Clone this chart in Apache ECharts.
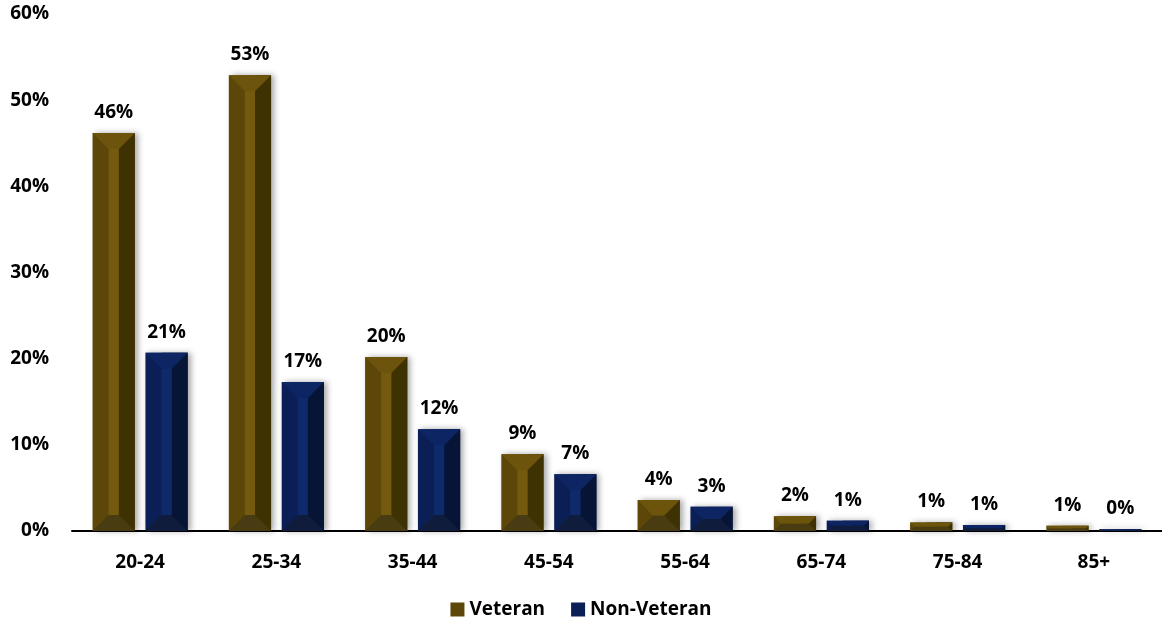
<!DOCTYPE html>
<html>
<head>
<meta charset="utf-8">
<script src="https://cdn.jsdelivr.net/npm/echarts@6/dist/echarts.min.js"></script>
<style>
html,body{margin:0;padding:0;background:#fff;}
#chart{width:1162px;height:624px;}
</style>
</head>
<body>
<div id="chart"></div>
<script>
var categories = ['20-24','25-34','35-44','45-54','55-64','65-74','75-84','85+'];
var veteran = [46.2, 52.9, 20.2, 8.9, 3.6, 1.7, 1.0, 0.6];
var nonVeteran = [20.7, 17.3, 11.8, 6.6, 2.8, 1.2, 0.7, 0.2];
var yTicks = [0, 10, 20, 30, 40, 50, 60];

var FONT = '"Open Sans", "Liberation Sans", sans-serif';

var palettes = [
  {left:'#5c4709', center:'#735a0e', right:'#3e3102', top:'#6c540c', bottom:'#4a3c12', legend:'#5c4709'},
  {left:'#0b1f56', center:'#0f2a6b', right:'#061436', top:'#0d2563', bottom:'#101c3c', legend:'#0b1f56'}
];

function makeRender(si) {
  var pal = palettes[si];
  return function (params, api) {
    var ci = api.value(0), v = api.value(1);
    var base = api.coord([ci, 0]);
    var top = api.coord([ci, v]);
    var catW = api.size([1, 0])[0];
    var bw = catW * 0.31;
    var off = catW * 0.194;
    var cx = base[0] + (si === 0 ? -off : off);
    var x0 = cx - bw / 2, x1 = cx + bw / 2;
    var y0 = top[1], y1 = base[1];
    var h = y1 - y0;
    var b = Math.min(16, h / 2);
    var inset = 16;
    var children = [];
    children.push({type:'rect', shape:{x:x0, y:y0, width:bw, height:h},
      style:{fill:pal.left, shadowBlur:6, shadowColor:'rgba(0,0,0,0.35)', shadowOffsetX:3, shadowOffsetY:0}});
    children.push({type:'rect', shape:{x:x1 - inset, y:y0, width:inset, height:h}, style:{fill:pal.right}});
    children.push({type:'rect', shape:{x:x0 + inset, y:y0, width:bw - 2 * inset, height:h}, style:{fill:pal.center}});
    children.push({type:'polygon', shape:{points:[[x0,y0],[x1,y0],[x1 - b, y0 + b],[x0 + b, y0 + b]]}, style:{fill:pal.top}});
    children.push({type:'polygon', shape:{points:[[x0,y1],[x1,y1],[x1 - b, y1 - b],[x0 + b, y1 - b]]}, style:{fill:pal.bottom}});
    children.push({type:'text', x:cx, y:y0 - 11,
      style:{text: Math.round(v) + '%', align:'center', verticalAlign:'bottom',
        font:'bold 19px ' + FONT, fill:'#000'}});
    return {type:'group', children:children};
  };
}

function seriesData(arr) {
  return arr.map(function (v, i) { return [i, v]; });
}

var chart = echarts.init(document.getElementById('chart'));
chart.setOption({
  animation:false,
  backgroundColor:'#fff',
  grid:{left:72, right:-6, top:14, bottom:93, containLabel:false},
  legend:{
    bottom:0, left:'center', itemWidth:14, itemHeight:14, itemGap:26,
    icon:'rect',
    textStyle:{fontFamily:FONT, fontWeight:'bold', fontSize:19, color:'#000'},
    data:['Veteran','Non-Veteran']
  },
  xAxis:{
    type:'category', data:categories,
    axisLine:{show:true, lineStyle:{color:'#000', width:2}},
    axisTick:{show:false},
    axisLabel:{margin:22, fontFamily:FONT, fontWeight:'bold', fontSize:19, color:'#000'}
  },
  yAxis:{
    type:'value', min:yTicks[0], max:yTicks[yTicks.length - 1], interval:10,
    splitLine:{show:false}, axisLine:{show:false}, axisTick:{show:false},
    axisLabel:{margin:23, fontFamily:FONT, fontWeight:'bold', fontSize:19, color:'#000',
      formatter:function (v) { return v + '%'; }}
  },
  series:[
    {name:'Veteran', type:'custom', renderItem:makeRender(0), data:seriesData(veteran),
      encode:{x:0, y:1}, itemStyle:{color:palettes[0].legend}},
    {name:'Non-Veteran', type:'custom', renderItem:makeRender(1), data:seriesData(nonVeteran),
      encode:{x:0, y:1}, itemStyle:{color:palettes[1].legend}}
  ]
});
</script>
</body>
</html>
